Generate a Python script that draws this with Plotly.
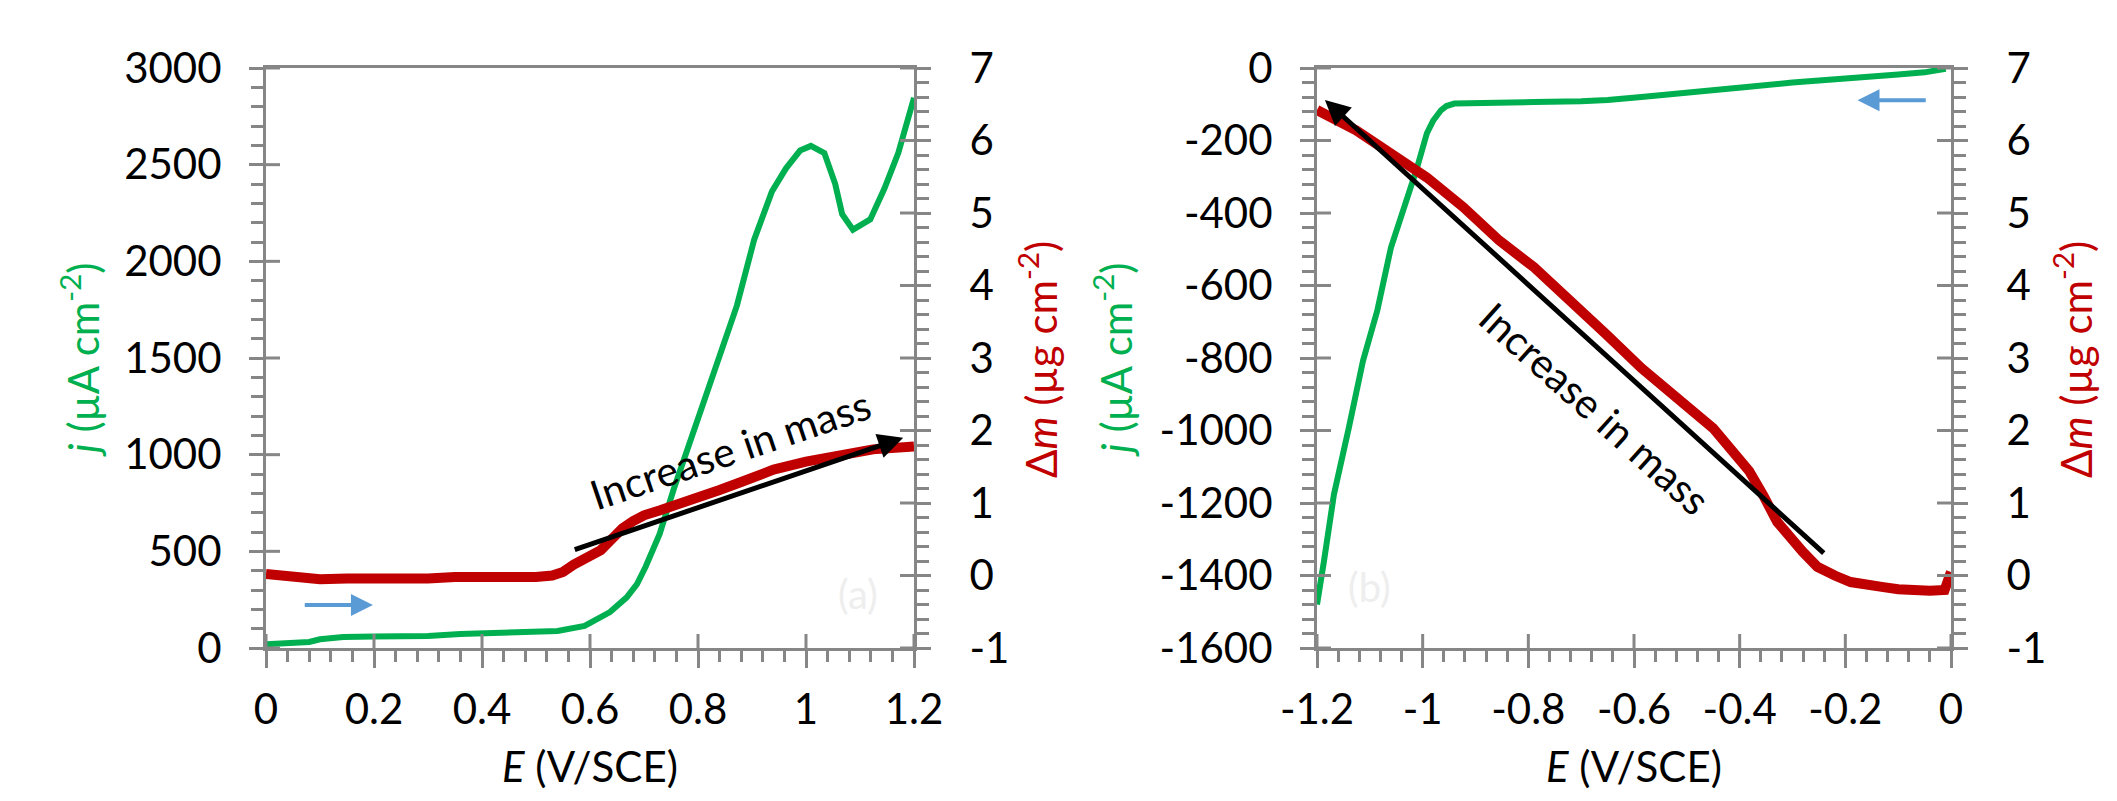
import numpy as np
import plotly.graph_objects as go

# ---------------- data ----------------
# Panel (a): anodic sweep 0 -> 1.2 V
a_E_j = [0.0, 0.05, 0.08, 0.1, 0.143, 0.2, 0.3, 0.36, 0.45, 0.54, 0.59, 0.637, 0.668,
         0.687, 0.703, 0.729, 0.755, 0.781, 0.807, 0.846, 0.872, 0.904, 0.937, 0.963,
         0.989, 1.009, 1.034, 1.054, 1.067, 1.087, 1.119, 1.145, 1.171, 1.2]
a_j = [20, 25, 31, 45, 57, 60, 62, 72, 80, 88, 114, 186, 262,
       330, 420, 590, 821, 1033, 1241, 1559, 1771, 2112, 2362, 2481,
       2573, 2597, 2560, 2401, 2244, 2164, 2217, 2375, 2561, 2846]

a_E_m = [0.0, 0.03, 0.06, 0.1, 0.15, 0.2, 0.25, 0.3, 0.35, 0.4, 0.45, 0.5, 0.53,
         0.55, 0.57, 0.6, 0.62, 0.64, 0.66, 0.68, 0.7, 0.73, 0.76, 0.8, 0.84,
         0.88, 0.94, 1.0, 1.063, 1.124, 1.2]
a_m = [0.02, 0.0, -0.04, -0.05, -0.04, -0.05, -0.04, -0.04, -0.02, -0.03, -0.03, -0.02, 0.0,
       0.05, 0.15, 0.25, 0.35, 0.5, 0.65, 0.75, 0.83, 0.9, 0.97, 1.08, 1.18,
       1.29, 1.46, 1.57, 1.67, 1.74, 1.78]

# Panel (b): cathodic sweep 0 -> -1.2 V
b_E_j = [-0.01, -0.05, -0.1, -0.14, -0.2, -0.3, -0.382, -0.45, -0.518, -0.586, -0.65,
         -0.7, -0.789, -0.85, -0.923, -0.94, -0.955, -0.965, -0.98, -0.992, -1.012,
         -1.031, -1.06, -1.086, -1.113, -1.14, -1.168, -1.187, -1.2]
b_j = [-2, -12, -18, -22, -30, -40, -52, -60, -69, -80, -88,
       -92, -94, -96, -98, -98, -105, -116, -145, -180, -282,
       -365, -495, -670, -808, -994, -1177, -1362, -1480]

b_E_m = [0.0, -0.005, -0.012, -0.04, -0.064, -0.1, -0.128, -0.16, -0.19, -0.22, -0.253,
         -0.281, -0.305, -0.329, -0.355, -0.382, -0.45, -0.518, -0.586, -0.653, -0.721,
         -0.789, -0.855, -0.923, -0.992, -1.06, -1.126, -1.2]
b_m = [0.05, -0.1, -0.2, -0.21, -0.21, -0.19, -0.16, -0.12, -0.09, 0.0, 0.12,
       0.33, 0.52, 0.74, 1.10, 1.44, 2.03, 2.45, 2.86, 3.33, 3.79,
       4.25, 4.62, 5.08, 5.49, 5.82, 6.14, 6.42]

# tick values / labels
a_x_ticks = [0, 0.2, 0.4, 0.6, 0.8, 1.0, 1.2]
a_x_labels = ["0", "0.2", "0.4", "0.6", "0.8", "1", "1.2"]
a_y_ticks = [0, 500, 1000, 1500, 2000, 2500, 3000]
a_y_labels = ["0", "500", "1000", "1500", "2000", "2500", "3000"]
b_x_ticks = [-1.2, -1.0, -0.8, -0.6, -0.4, -0.2, 0]
b_x_labels = ["-1.2", "-1", "-0.8", "-0.6", "-0.4", "-0.2", "0"]
b_y_ticks = [-1600, -1400, -1200, -1000, -800, -600, -400, -200, 0]
b_y_labels = ["-1600", "-1400", "-1200", "-1000", "-800", "-600", "-400", "-200", "0"]
m_ticks = [-1, 0, 1, 2, 3, 4, 5, 6, 7]
m_labels = ["-1", "0", "1", "2", "3", "4", "5", "6", "7"]

# ---------------- style ----------------
OFF = 8                      # page body margin of the html page
W, H = 2117 - 2 * OFF, 801 - 2 * OFF
GREEN = "#00b050"
RED = "#c00000"
BLUE = "#5b9bd5"
AXC = "#868686"
FONT = "Lato"
TFS = 42


def px(x):
    return (x - OFF) / W


def py(y):
    return 1 - (y - OFF) / H


A_DOM_X = [px(266), px(914)]
B_DOM_X = [px(1317), px(1951)]
DOM_Y = [py(648), py(68)]
PH = 580  # plot height px

fig = go.Figure()
fig.add_trace(go.Scatter(x=a_E_j, y=a_j, mode="lines", line=dict(color=GREEN, width=6),
                         xaxis="x", yaxis="y", showlegend=False))
fig.add_trace(go.Scatter(x=a_E_m, y=a_m, mode="lines", line=dict(color=RED, width=10),
                         xaxis="x", yaxis="y2", showlegend=False))
fig.add_trace(go.Scatter(x=b_E_j, y=b_j, mode="lines", line=dict(color=GREEN, width=6),
                         xaxis="x2", yaxis="y3", showlegend=False))
fig.add_trace(go.Scatter(x=b_E_m, y=b_m, mode="lines", line=dict(color=RED, width=10),
                         xaxis="x2", yaxis="y4", showlegend=False))


def minor_vals(ticks, n=5):
    out = []
    for a, b in zip(ticks[:-1], ticks[1:]):
        step = (b - a) / n
        out += [a + k * step for k in range(1, n)]
    return out


def xax(dom, rng, tv, tt, anchor):
    return dict(domain=dom, range=rng, anchor=anchor, showgrid=False, zeroline=False,
                automargin=False,
                showline=True, linecolor=AXC, linewidth=3, mirror=True,
                ticks="outside", ticklen=17, tickwidth=3, tickcolor=AXC,
                tickmode="array", tickvals=tv, ticktext=tt,
                tickfont=dict(family=FONT, size=TFS, color="black"),
                ticklabelstandoff=6,
                minor=dict(ticks="outside", ticklen=11, tickwidth=3, tickcolor=AXC,
                           tickmode="array", tickvals=minor_vals(tv)))


def yax(dom, rng, tv, tt, anchor, side="left", overlaying=None):
    d = dict(domain=dom, range=rng, anchor=anchor, side=side, showgrid=False, zeroline=False,
             automargin=False,
             showline=True, linecolor=AXC, linewidth=3,
             ticks="outside", ticklen=14, tickwidth=3, tickcolor=AXC,
             tickmode="array", tickvals=tv, ticktext=tt,
             tickfont=dict(family=FONT, size=TFS, color="black"),
             ticklabelstandoff=19 if side == "left" else 30,
             minor=dict(ticks="outside", ticklen=12, tickwidth=3, tickcolor=AXC,
                        tickmode="array", tickvals=minor_vals(tv)))
    if overlaying:
        d["overlaying"] = overlaying
    return d


fig.update_layout(
    width=W, height=H, margin=dict(l=0, r=0, t=0, b=0, autoexpand=False),
    paper_bgcolor="white", plot_bgcolor="white",
    xaxis=xax(A_DOM_X, [0, 1.2], a_x_ticks, a_x_labels, "y"),
    yaxis=yax(DOM_Y, [0, 3000], a_y_ticks, a_y_labels, "x"),
    yaxis2=yax(DOM_Y, [-1, 7], m_ticks, m_labels, "x", side="right", overlaying="y"),
    xaxis2=xax(B_DOM_X, [-1.2, 0], b_x_ticks, b_x_labels, "y3"),
    yaxis3=yax(DOM_Y, [-1600, 0], b_y_ticks, b_y_labels, "x2"),
    yaxis4=yax(DOM_Y, [-1, 7], m_ticks, m_labels, "x2", side="right", overlaying="y3"),
)

# inner halves of the crossing major ticks
shapes = []
for xr, yr, xt, yt_left, yt_right, pw in [("x", "y", a_x_ticks, a_y_ticks, m_ticks, 648),
                                          ("x2", "y3", b_x_ticks, b_y_ticks, m_ticks, 634)]:
    yr_right = "y2" if xr == "x" else "y4"
    for v in xt:
        shapes.append(dict(type="line", xref=xr, yref=yr + " domain", x0=v, x1=v, y0=0, y1=14 / PH,
                           line=dict(color=AXC, width=3)))
    for v in yt_left:
        shapes.append(dict(type="line", xref=xr + " domain", yref=yr, x0=0, x1=14 / pw, y0=v, y1=v,
                           line=dict(color=AXC, width=3)))
    for v in yt_right:
        shapes.append(dict(type="line", xref=xr + " domain", yref=yr_right, x0=1 - 14 / pw, x1=1,
                           y0=v, y1=v, line=dict(color=AXC, width=3)))
fig.update_layout(shapes=shapes)

ann = []
# axis titles
tf = dict(family=FONT, size=TFS)
YT = py(360)
ann.append(dict(text="<i>j</i> (µA cm<sup>-2</sup>)", xref="paper", yref="paper", x=px(80), y=YT,
                textangle=-90, showarrow=False, font=dict(tf, color=GREEN), xanchor="center", yanchor="middle"))
ann.append(dict(text="Δ<i>m</i> (µg cm<sup>-2</sup>)", xref="paper", yref="paper", x=px(1038), y=YT,
                textangle=-90, showarrow=False, font=dict(tf, color=RED), xanchor="center", yanchor="middle"))
ann.append(dict(text="<i>j</i> (µA cm<sup>-2</sup>)", xref="paper", yref="paper", x=px(1113), y=YT,
                textangle=-90, showarrow=False, font=dict(tf, color=GREEN), xanchor="center", yanchor="middle"))
ann.append(dict(text="Δ<i>m</i> (µg cm<sup>-2</sup>)", xref="paper", yref="paper", x=px(2073), y=YT,
                textangle=-90, showarrow=False, font=dict(tf, color=RED), xanchor="center", yanchor="middle"))
ann.append(dict(text="<i>E</i> (V/SCE)", xref="paper", yref="paper", x=px(590), y=0,
                showarrow=False, font=dict(tf, color="black"), xanchor="center", yanchor="bottom"))
ann.append(dict(text="<i>E</i> (V/SCE)", xref="paper", yref="paper", x=px(1634), y=0,
                showarrow=False, font=dict(tf, color="black"), xanchor="center", yanchor="bottom"))

# black "increase in mass" arrows and labels
ann.append(dict(x=1.18, y=1.90, ax=0.569, ay=0.35, xref="x", yref="y2", axref="x", ayref="y2",
                text="", showarrow=True, arrowhead=2, arrowsize=1, arrowwidth=5, arrowcolor="black",
                standoff=0, startstandoff=0))
ann.append(dict(x=0.859, y=1.74, xref="x", yref="y2", text="Increase in mass", showarrow=False,
                textangle=-18.6, font=dict(family=FONT, size=41, color="black")))
ann.append(dict(x=-1.185, y=6.56, ax=-0.238, ay=0.29, xref="x2", yref="y4", axref="x2", ayref="y4",
                text="", showarrow=True, arrowhead=2, arrowsize=1, arrowwidth=5, arrowcolor="black",
                standoff=0, startstandoff=0))
ann.append(dict(x=-0.673, y=2.31, xref="x2", yref="y4", text="Increase in mass", showarrow=False,
                textangle=42, font=dict(family=FONT, size=41, color="black")))

# blue sweep-direction arrows
ann.append(dict(x=0.198, y=222, ax=0.069, ay=222, xref="x", yref="y", axref="x", ayref="y",
                text="", showarrow=True, arrowhead=2, arrowsize=1.1, arrowwidth=4, arrowcolor=BLUE,
                standoff=0))
ann.append(dict(x=-0.177, y=-89, ax=-0.045, ay=-89, xref="x2", yref="y3", axref="x2", ayref="y3",
                text="", showarrow=True, arrowhead=2, arrowsize=1.1, arrowwidth=4, arrowcolor=BLUE,
                standoff=0))

# faint panel labels
ann.append(dict(x=1.096, y=279, xref="x", yref="y", text="(a)", showarrow=False,
                font=dict(family=FONT, size=40, color="#eeeeee")))
ann.append(dict(x=-1.10, y=-1431, xref="x2", yref="y3", text="(b)", showarrow=False,
                font=dict(family=FONT, size=40, color="#eeeeee")))

fig.update_layout(annotations=ann)
fig.write_html("out.html")
